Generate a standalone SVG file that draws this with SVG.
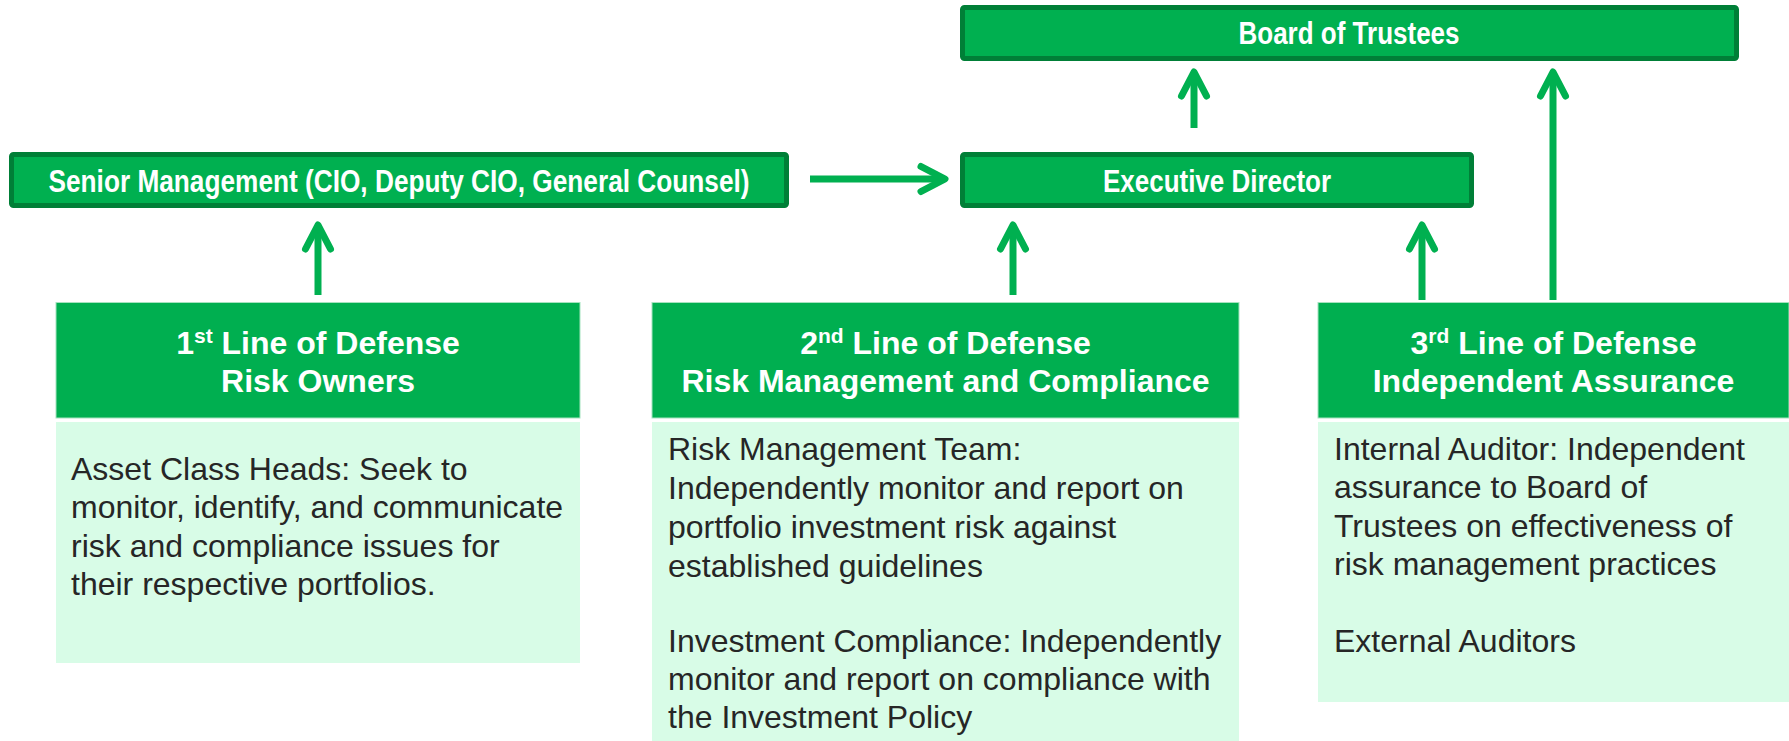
<svg xmlns="http://www.w3.org/2000/svg" width="1789" height="741" viewBox="0 0 1789 741">
  <style>
    .bar { fill: #00B050; stroke: #007F37; stroke-width: 5; }
    .bar-label { font-family: "Liberation Sans Narrow", "Liberation Sans", Arial, sans-serif; font-weight: bold; font-size: 31px; fill: #FFFFFF; text-anchor: middle; }
    .head { fill: #00AF50; stroke: #A6E3BF; stroke-width: 1; }
    .body { fill: #D8FCE7; }
    .head-label { font-family: "Liberation Sans", Arial, sans-serif; font-weight: bold; font-size: 32px; fill: #FFFFFF; text-anchor: middle; }
    .sup { font-size: 21px; }
    .body-text { font-family: "Liberation Sans", Arial, sans-serif; font-size: 32px; fill: #262626; }
    .link { fill: none; stroke: #00B050; stroke-width: 7; marker-end: url(#chevron); }
  </style>
  <defs>
    <!-- open chevron arrowhead, tip at the path end -->
    <marker id="chevron" markerUnits="userSpaceOnUse" viewBox="-30 -16 34 32" markerWidth="34" markerHeight="32" refX="0" refY="0" orient="auto" overflow="visible">
      <path d="M -24,-12.5 L 0,0 L -24,12.5" fill="none" stroke="#00B050" stroke-width="7" stroke-linecap="round" stroke-linejoin="round"/>
    </marker>
  </defs>

  <rect width="1789" height="741" fill="#FFFFFF"/>

  <!-- reporting lines -->
  <g id="connectors">
    <path class="link" d="M 810,179 H 945"/>
    <path class="link" d="M 318,295 V 225"/>
    <path class="link" d="M 1013,295 V 225"/>
    <path class="link" d="M 1422,300 V 225"/>
    <path class="link" d="M 1194,128 V 72"/>
    <path class="link" d="M 1553,300 V 72"/>
  </g>

  <g id="board-of-trustees">
    <rect class="bar" x="962.5" y="7.5" width="774" height="51" rx="2"/>
    <text class="bar-label" x="1349" y="44" textLength="221" lengthAdjust="spacingAndGlyphs">Board of Trustees</text>
  </g>

  <g id="senior-management">
    <rect class="bar" x="11.5" y="154.5" width="775" height="51" rx="2"/>
    <text class="bar-label" x="399" y="192" textLength="701" lengthAdjust="spacingAndGlyphs">Senior Management (CIO, Deputy CIO, General Counsel)</text>
  </g>

  <g id="executive-director">
    <rect class="bar" x="962.5" y="154.5" width="509" height="51" rx="2"/>
    <text class="bar-label" x="1217" y="192" textLength="228" lengthAdjust="spacingAndGlyphs">Executive Director</text>
  </g>

  <g id="first-line">
    <rect class="head" x="56" y="302.5" width="524" height="115.5"/>
    <rect class="body" x="56" y="422" width="524" height="241"/>
    <text class="head-label" x="318" y="354">1<tspan class="sup" dy="-11">st</tspan><tspan dy="11"> Line of Defense</tspan></text>
    <text class="head-label" x="318" y="392">Risk Owners</text>
    <text class="body-text">
      <tspan x="71" y="480">Asset Class Heads: Seek to</tspan>
      <tspan x="71" y="518">monitor, identify, and communicate</tspan>
      <tspan x="71" y="557">risk and compliance issues for</tspan>
      <tspan x="71" y="595">their respective portfolios.</tspan>
    </text>
  </g>

  <g id="second-line">
    <rect class="head" x="652" y="302.5" width="587" height="115.5"/>
    <rect class="body" x="652" y="422" width="587" height="319"/>
    <text class="head-label" x="945.5" y="354">2<tspan class="sup" dy="-11">nd</tspan><tspan dy="11"> Line of Defense</tspan></text>
    <text class="head-label" x="945.5" y="392">Risk Management and Compliance</text>
    <text class="body-text">
      <tspan x="668" y="460">Risk Management Team:</tspan>
      <tspan x="668" y="499">Independently monitor and report on</tspan>
      <tspan x="668" y="538">portfolio investment risk against</tspan>
      <tspan x="668" y="577">established guidelines</tspan>
      <tspan x="668" y="652">Investment Compliance: Independently</tspan>
      <tspan x="668" y="690">monitor and report on compliance with</tspan>
      <tspan x="668" y="728">the Investment Policy</tspan>
    </text>
  </g>

  <g id="third-line">
    <rect class="head" x="1318" y="302.5" width="471" height="115.5"/>
    <rect class="body" x="1318" y="422" width="471" height="280"/>
    <text class="head-label" x="1553.5" y="354">3<tspan class="sup" dy="-11">rd</tspan><tspan dy="11"> Line of Defense</tspan></text>
    <text class="head-label" x="1553.5" y="392">Independent Assurance</text>
    <text class="body-text">
      <tspan x="1334" y="460">Internal Auditor: Independent</tspan>
      <tspan x="1334" y="498">assurance to Board of</tspan>
      <tspan x="1334" y="537">Trustees on effectiveness of</tspan>
      <tspan x="1334" y="575">risk management practices</tspan>
      <tspan x="1334" y="652">External Auditors</tspan>
    </text>
  </g>
</svg>
